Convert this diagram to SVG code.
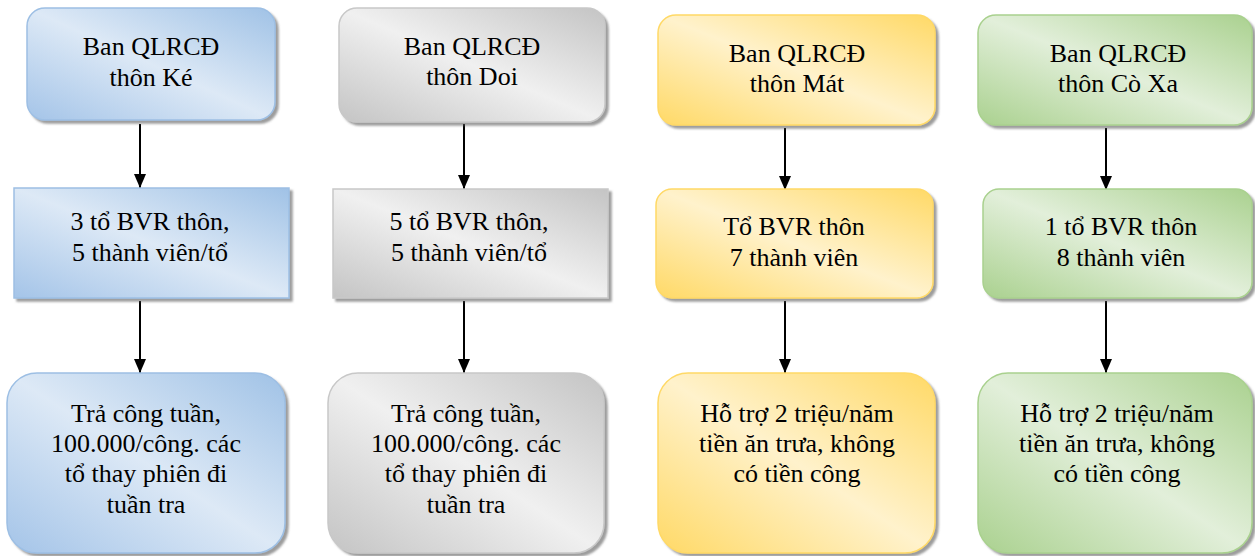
<svg xmlns="http://www.w3.org/2000/svg" width="1255" height="556" viewBox="0 0 1255 556">
<defs>
<linearGradient id="gBlue" x1="0" y1="1" x2="1" y2="0"><stop offset="0" stop-color="#a4c4e8"/><stop offset="0.5" stop-color="#dde9f6"/><stop offset="1" stop-color="#a0c2e6"/></linearGradient>
<linearGradient id="gGray" x1="0" y1="1" x2="1" y2="0"><stop offset="0" stop-color="#c4c4c4"/><stop offset="0.5" stop-color="#f0f0f0"/><stop offset="1" stop-color="#c4c4c4"/></linearGradient>
<linearGradient id="gYellow" x1="0" y1="1" x2="1" y2="0"><stop offset="0" stop-color="#ffd966"/><stop offset="0.5" stop-color="#fff2cc"/><stop offset="1" stop-color="#ffd966"/></linearGradient>
<linearGradient id="gGreen" x1="0" y1="1" x2="1" y2="0"><stop offset="0" stop-color="#aad18f"/><stop offset="0.5" stop-color="#e2efda"/><stop offset="1" stop-color="#aad18f"/></linearGradient>
<filter id="sh" x="-5%" y="-5%" width="115%" height="115%"><feDropShadow dx="3" dy="3" stdDeviation="1" flood-color="#5a5a5a" flood-opacity="0.6"/></filter>
<marker id="arr" markerWidth="14" markerHeight="12" refX="14" refY="6" orient="auto" markerUnits="userSpaceOnUse" viewBox="0 0 14 12"><path d="M0,0 L14,6 L0,12 Z" fill="#000"/></marker>
</defs>
<style>
.t{font-size:26px;fill:#000;text-anchor:middle}
.blue{fill:url(#gBlue);stroke:#9dbfe4;stroke-width:1.5;filter:url(#sh)}
.gray{fill:url(#gGray);stroke:#c8c8c8;stroke-width:1.5;filter:url(#sh)}
.yellow{fill:url(#gYellow);stroke:#ffd966;stroke-width:1.5;filter:url(#sh)}
.green{fill:url(#gGreen);stroke:#a9d18e;stroke-width:1.5;filter:url(#sh)}
.c{stroke:#000;stroke-width:2;fill:none;marker-end:url(#arr)}
</style>
<rect width="1255" height="556" fill="#fff"/>
<g id="connectors">
<line class="c" x1="140" y1="124" x2="140" y2="188"/>
<line class="c" x1="140" y1="301" x2="140" y2="373"/>
<line class="c" x1="464" y1="124" x2="464" y2="189"/>
<line class="c" x1="464" y1="301" x2="464" y2="373"/>
<line class="c" x1="785" y1="128" x2="785" y2="190"/>
<line class="c" x1="785" y1="301" x2="785" y2="373"/>
<line class="c" x1="1106" y1="128" x2="1106" y2="190"/>
<line class="c" x1="1106" y1="301" x2="1106" y2="373"/>
</g>
<g font-family="'Liberation Serif', 'Times New Roman', Tinos, 'DejaVu Serif', serif">
<g id="n1"><rect class="blue" x="27" y="8" width="248" height="112" rx="18"/><text class="t" x="151" y="55">Ban QLRCĐ</text><text class="t" x="151" y="86">thôn Ké</text></g>
<g id="n2"><rect class="blue" x="14" y="188" width="275" height="110"/><text class="t" x="150" y="230">3 tổ BVR thôn,</text><text class="t" x="150" y="261">5 thành viên/tổ</text></g>
<g id="n3"><rect class="blue" x="7" y="373" width="278" height="180" rx="30"/><text class="t" x="146" y="422">Trả công tuần,</text><text class="t" x="146" y="452">100.000/công. các</text><text class="t" x="146" y="482">tổ thay phiên đi</text><text class="t" x="146" y="513">tuần tra</text></g>
<g id="n4"><rect class="gray" x="339" y="8" width="266" height="114" rx="18"/><text class="t" x="472" y="55">Ban QLRCĐ</text><text class="t" x="472" y="85">thôn Doi</text></g>
<g id="n5"><rect class="gray" x="333" y="189" width="275" height="109"/><text class="t" x="469" y="230">5 tổ BVR thôn,</text><text class="t" x="469" y="261">5 thành viên/tổ</text></g>
<g id="n6"><rect class="gray" x="328" y="373" width="276" height="180" rx="30"/><text class="t" x="466" y="422">Trả công tuần,</text><text class="t" x="466" y="452">100.000/công. các</text><text class="t" x="466" y="482">tổ thay phiên đi</text><text class="t" x="466" y="513">tuần tra</text></g>
<g id="n7"><rect class="yellow" x="658" y="15" width="277" height="110" rx="18"/><text class="t" x="797" y="62">Ban QLRCĐ</text><text class="t" x="797" y="92">thôn Mát</text></g>
<g id="n8"><rect class="yellow" x="656" y="189" width="277" height="109" rx="16"/><text class="t" x="794" y="235">Tổ BVR thôn</text><text class="t" x="794" y="266">7 thành viên</text></g>
<g id="n9"><rect class="yellow" x="658" y="373" width="277" height="180" rx="30"/><text class="t" x="797" y="422">Hỗ trợ 2 triệu/năm</text><text class="t" x="797" y="452">tiền ăn trưa, không</text><text class="t" x="797" y="482">có tiền công</text></g>
<g id="n10"><rect class="green" x="978" y="15" width="274" height="110" rx="18"/><text class="t" x="1118" y="62">Ban QLRCĐ</text><text class="t" x="1118" y="92">thôn Cò Xa</text></g>
<g id="n11"><rect class="green" x="983" y="189" width="269" height="109" rx="16"/><text class="t" x="1121" y="235">1 tổ BVR thôn</text><text class="t" x="1121" y="266">8 thành viên</text></g>
<g id="n12"><rect class="green" x="978" y="373" width="274" height="180" rx="30"/><text class="t" x="1117" y="422">Hỗ trợ 2 triệu/năm</text><text class="t" x="1117" y="452">tiền ăn trưa, không</text><text class="t" x="1117" y="482">có tiền công</text></g>
</g>
</svg>
